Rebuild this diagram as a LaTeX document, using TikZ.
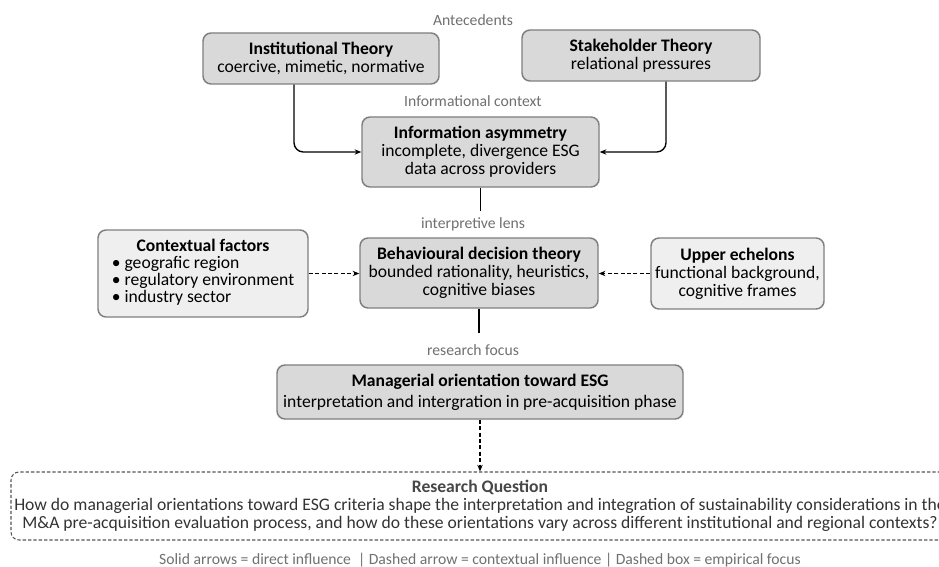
\documentclass[tikz,border=0pt]{standalone}
\usepackage{fontspec}
\setmainfont{Carlito}
\usetikzlibrary{arrows.meta}
\definecolor{boxgray}{HTML}{D9D9D9}
\definecolor{lightbox}{HTML}{EFEFEF}
\definecolor{bordergray}{HTML}{7F7F7F}
\definecolor{labelgray}{HTML}{707070}
\definecolor{rqborder}{HTML}{555555}
\definecolor{rqtext}{HTML}{333333}
\tikzset{
  x=0.75pt, y=-0.75pt,
  mainbox/.style={draw=bordergray, fill=boxgray, rounded corners=6pt, line width=1.1pt, align=center, inner sep=0pt,
    font=\fontsize{13.2}{13.5}\selectfont},
  sidebox/.style={mainbox, fill=lightbox},
  lbl/.style={text=labelgray, font=\fontsize{11.75}{13}\selectfont, inner sep=0pt},
  arr/.style={-{Stealth[length=5pt,width=4pt]}, line width=1pt, rounded corners=7pt},
  darr/.style={-{Stealth[length=5pt,width=4pt]}, line width=1pt, dash pattern=on 3pt off 1.8pt},
  plain/.style={line width=1pt}
}
\begin{document}
\begin{tikzpicture}
\clip (0,0) rectangle (939,567);
\fill[white] (0,0) rectangle (939,567);

\node[lbl] (antec) at (473,20) {Antecedents};
\node[mainbox, minimum width=236*0.75pt, minimum height=51*0.75pt] (inst) at (321,58.5)
  {\textbf{Institutional Theory}\\coercive, mimetic, normative};
\node[mainbox, minimum width=238*0.75pt, minimum height=51*0.75pt] (stake) at (641,55.5)
  {\textbf{Stakeholder Theory}\\relational pressures};

\node[lbl] (infctx) at (473,101) {Informational context};
\node[mainbox, minimum width=237*0.75pt, minimum height=70*0.75pt] (info) at (480.5,152)
  {\textbf{Information asymmetry}\\incomplete, divergence ESG\\data across providers};

\coordinate (instx) at (294,0);
\coordinate (stakex) at (666,0);
\draw[arr] (inst.south -| instx) |- (info.west);
\draw[arr] (stake.south -| stakex) |- (info.east);

\coordinate (lensend) at (480.5,211);
\draw[plain] (info.south) -- (lensend);
\node[lbl] (lens) at (473,224) {interpretive lens};

\node[mainbox, minimum width=238*0.75pt, minimum height=70*0.75pt] (behav) at (479,273)
  {\textbf{Behavioural decision theory}\\bounded rationality, heuristics,\\cognitive biases};

\node[sidebox, minimum width=210*0.75pt, minimum height=87*0.75pt,
      font=\fontsize{13.2}{12.6}\selectfont] (ctx) at (203,273.5)
  {\textbf{Contextual factors}\\
   \begin{tabular}[t]{@{}l@{}}\textbullet\ geografic region\\\textbullet\ regulatory environment\\\textbullet\ industry sector\end{tabular}};
\node[sidebox, minimum width=173*0.75pt, minimum height=71*0.75pt] (upper) at (737.5,273.5)
  {\textbf{Upper echelons}\\functional background,\\cognitive frames};

\draw[darr] (ctx.east) -- (ctx.east -| behav.west);
\draw[darr] (upper.west) -- (upper.west -| behav.east);

\coordinate (focusend) at (479,333);
\draw[plain] (behav.south) -- (focusend);
\node[lbl] (focus) at (473,350) {research focus};

\node[mainbox, minimum width=406*0.75pt, minimum height=54*0.75pt] (manag) at (480,392)
  {\textbf{Managerial orientation toward ESG}\\[2pt]interpretation and intergration in pre-acquisition phase};

\node[draw=rqborder, dash pattern=on 2.5pt off 1.5pt, rounded corners=6pt, line width=0.8pt, fill=white,
      minimum width=938*0.75pt, minimum height=68*0.75pt, align=center, inner sep=0pt,
      font=\fontsize{13.2}{13.3}\selectfont, text=rqtext] (rq) at (480,506)
  {\textbf{\color{black!72}Research Question}\\How do managerial orientations toward ESG criteria shape the interpretation and integration of sustainability considerations in the\\M\&A pre-acquisition evaluation process, and how do these orientations vary across different institutional and regional contexts?};

\draw[darr] (manag.south) -- (rq.north -| manag.south);

\node[lbl] (legend) at (480,560) {Solid arrows = direct influence~~| Dashed arrow = contextual influence | Dashed box = empirical focus};
\end{tikzpicture}
\end{document}
